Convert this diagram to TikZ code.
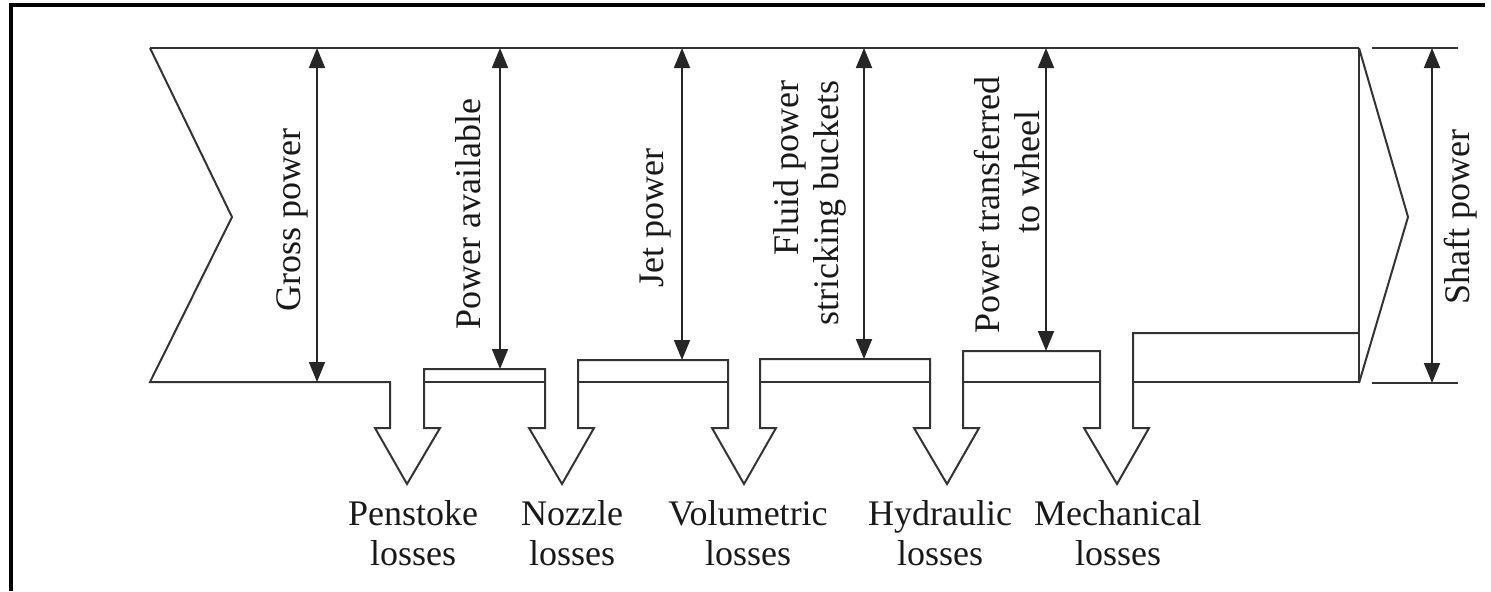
\documentclass[tikz,border=0pt]{standalone}
\usepackage{fontspec}
\setmainfont{Liberation Serif}
\usetikzlibrary{arrows.meta}
\begin{document}
\begin{tikzpicture}[x=0.5pt,y=-0.5pt,
  outl/.style={draw=black!80, line width=1pt, line join=miter},
  dimline/.style={draw=black!85, line width=0.9pt, {Triangle[length=10pt,width=8pt]}-{Triangle[length=10pt,width=8pt]}},
  vlabel/.style={font=\fontsize{18}{20}\selectfont, rotate=90, inner sep=0pt, text=black!90},
  losslabel/.style={font=\fontsize{18}{20}\selectfont, align=center, inner sep=0pt, text=black!90}]
\useasboundingbox (0,0) rectangle (1491,591);
% frame
\draw[line width=1.6pt] (11,591) -- (11,5) -- (1485,5);
% main flow outline
\draw[outl] (150,48) -- (1359,48);
\draw[outl] (150,48) -- (232,217) -- (150,382) -- (390,382) -- (390,428) -- (375,428) -- (407,484) -- (440,428) -- (424,428) -- (424,369) -- (545,369) -- (545,428) -- (529,428) -- (562,484) -- (594,428) -- (578,428) -- (578,360) -- (728,360) -- (728,428) -- (712,428) -- (744,484) -- (776,428) -- (760,428) -- (760,359) -- (930,359) -- (930,428) -- (914,428) -- (947,484) -- (979,428) -- (963,428) -- (963,351) -- (1100,351) -- (1100,428) -- (1084,428) -- (1117,484) -- (1149,428) -- (1133,428) -- (1133,333) -- (1359,333);
\draw[outl] (1359,48) -- (1359,383);
\draw[outl] (424,382) -- (545,382);
\draw[outl] (578,382) -- (728,382);
\draw[outl] (760,382) -- (930,382);
\draw[outl] (963,382) -- (1100,382);
\draw[outl] (1133,382) -- (1359,382);
\draw[outl] (1359,48) -- (1408,217) -- (1359,383);
% shaft power extension lines
\draw[outl] (1372,48) -- (1458,48);
\draw[outl] (1372,383) -- (1458,383);
% dimension coordinates
\coordinate (g1) at (317,48);  \coordinate (g2) at (317,382);
\coordinate (a1) at (500,48);  \coordinate (a2) at (500,369);
\coordinate (j1) at (682,48);  \coordinate (j2) at (682,360);
\coordinate (f1) at (864,48);  \coordinate (f2) at (864,359);
\coordinate (w1) at (1046,48); \coordinate (w2) at (1046,351);
\coordinate (s1) at (1432,48); \coordinate (s2) at (1432,383);
\draw[dimline] (g1) -- (g2);
\draw[dimline] (a1) -- (a2);
\draw[dimline] (j1) -- (j2);
\draw[dimline] (f1) -- (f2);
\draw[dimline] (w1) -- (w2);
\draw[dimline] (s1) -- (s2);
% vertical labels
\node[vlabel] (lg) at (292,220) {Gross power};
\node[vlabel] (la) at (468,214) {Power available};
\node[vlabel] (lj) at (656,218) {Jet power};
\node[vlabel, align=right] (lf) at (810,203) {Fluid power\\stricking buckets};
\node[vlabel, align=right] (lw) at (1007,205) {Power transferred\\to wheel\hspace*{17pt}};
\node[vlabel] (ls) at (1461,217) {Shaft power};
% loss labels
\node[losslabel] (pl) at (413,533) {Penstoke\\losses};
\node[losslabel] (nl) at (572,533) {Nozzle\\losses};
\node[losslabel] (vl) at (748,533) {Volumetric\\losses};
\node[losslabel] (hl) at (940,533) {Hydraulic\\losses};
\node[losslabel] (ml) at (1118,533) {Mechanical\\losses};
\end{tikzpicture}
\end{document}
